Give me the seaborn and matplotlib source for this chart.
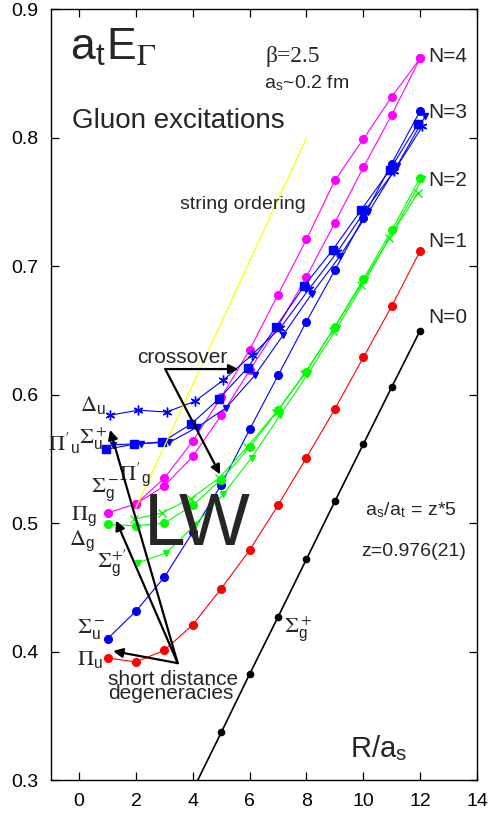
import matplotlib
matplotlib.use("Agg")
import matplotlib.pyplot as plt
import seaborn as sns
import numpy as np
import pandas as pd

# ---------------- data ----------------
R = [1, 2, 3, 4, 5, 6, 7, 8, 9, 10, 11, 12]
R_from2 = [2, 3, 4, 5, 6, 7, 8, 9, 10, 11, 12]
R_from4 = [4, 5, 6, 7, 8, 9, 10, 11, 12]

sigma_g_plus = [0.292, 0.337, 0.3825, 0.427, 0.472, 0.517, 0.5615, 0.606, 0.650]          # N=0, black
pi_u = [0.395, 0.392, 0.401, 0.421, 0.449, 0.479, 0.514, 0.551, 0.589, 0.629, 0.669, 0.712]  # red
sigma_u_minus = [0.410, 0.4315, 0.458, 0.493, 0.530, 0.573, 0.615, 0.657, 0.697, 0.738, 0.780, 0.821]
delta_g = [0.499, 0.498, 0.500, 0.514, 0.534, 0.559, 0.588, 0.618, 0.653, 0.690, 0.728, 0.769]
green_cross = [0.503, 0.508, 0.519, 0.535, 0.5595, 0.586, 0.616, 0.650, 0.6855, 0.722, 0.757]
sigma_g_plus_p = [0.469, 0.477, 0.4985, 0.5224, 0.551, 0.584, 0.617, 0.652, 0.689, 0.728, 0.768]
pi_g = [0.508, 0.515, 0.529, 0.552, 0.584, 0.619, 0.653, 0.692, 0.734, 0.777, 0.818, 0.862]
pi_g_p = [0.515, 0.535, 0.564, 0.598, 0.635, 0.678, 0.721, 0.767, 0.799, 0.832, 0.862]
pi_u_p = [0.5575, 0.5614, 0.5634, 0.577, 0.597, 0.621, 0.653, 0.685, 0.713, 0.744, 0.775, 0.811]
sigma_u_plus = [0.561, 0.562, 0.563, 0.575, 0.590, 0.615, 0.6465, 0.6785, 0.708, 0.742, 0.778, 0.817]
delta_u = [0.584, 0.588, 0.5865, 0.595, 0.6115, 0.631, 0.652, 0.682, 0.711, 0.744, 0.774, 0.809]

string_R = [2, 8]
string_E = [0.512, 0.800]

level_labels = ["N=0", "N=1", "N=2", "N=3", "N=4"]
level_E = [0.660, 0.719, 0.767, 0.820, 0.863]

xticks = [0, 2, 4, 6, 8, 10, 12, 14]
yticks = [0.3, 0.4, 0.5, 0.6, 0.7, 0.8, 0.9]

# ---------------- style ----------------
sns.set_style("ticks")
plt.rcParams['font.family'] = ['Liberation Sans', 'DejaVu Sans']
plt.rcParams['mathtext.fontset'] = 'stix'

fig = plt.figure(figsize=(4.92, 8.16), dpi=100)
ax = fig.add_axes([0.103, 0.0441, 0.8665, 0.9443])

BLUE, MAG, GRN, RED = '#0000ff', '#ff00ff', '#00ff00', '#ff0000'

series = [
    (R_from4, sigma_g_plus, 'black', 'o', 4.5, 1.2, 0.0),
    (R, pi_u, RED, 'o', 5.5, 0.8, 0.0),
    (R, sigma_u_minus, BLUE, 'o', 5.5, 0.8, 0.0),
    (R, delta_g, GRN, 'o', 5.5, 0.8, 0.0),
    (R_from2, green_cross, GRN, 'x', 5.5, 0.8, -0.08),
    (R_from2, sigma_g_plus_p, GRN, 'v', 5.0, 0.8, 0.07),
    (R, pi_g, MAG, 'o', 5.5, 0.8, 0.0),
    (R_from2, pi_g_p, MAG, 'o', 5.5, 0.8, 0.0),
    (R, pi_u_p, BLUE, 's', 5.5, 0.8, -0.07),
    (R, sigma_u_plus, BLUE, 'v', 4.5, 0.8, 0.18),
    (R, delta_u, BLUE, (6, 2, 0), 7.0, 0.8, 0.08),
]

for xs, ys, col, mk, ms, lw, dx in series:
    df = pd.DataFrame({'R': np.asarray(xs, float) + dx, 'E': ys})
    sns.lineplot(data=df, x='R', y='E', ax=ax, color=col, marker=mk, markersize=ms,
                 markeredgecolor=col, markerfacecolor=col, markeredgewidth=1.0,
                 linewidth=lw, estimator=None, sort=False, legend=False, clip_on=True)

sns.lineplot(x=string_R, y=string_E, ax=ax, color='#ffff00', linewidth=0.9,
             estimator=None, legend=False)

ax.set_xlim(-1, 14)
ax.set_ylim(0.3, 0.9)
ax.set_xticks(xticks)
ax.set_yticks(yticks)
ax.set_xticklabels([str(t) for t in xticks])
ax.set_yticklabels([f"{t:.1f}" for t in yticks])
ax.tick_params(direction='in', length=6, width=0.9, top=True, right=True,
               labelsize=14, pad=9, colors='black')
for s in ax.spines.values():
    s.set_linewidth(1.0)
    s.set_color('black')
ax.set_xlabel('')
ax.set_ylabel('')

# ---------------- texts ----------------
ax.text(-0.32, 0.8615, r'$\mathregular{a}_\mathregular{t}\mathregular{E}_\Gamma$', fontsize=32,
        va='baseline', ha='left')
ax.text(6.55, 0.859, 'β=2.5', fontsize=17, family='Liberation Serif', va='baseline')
ax.text(6.5, 0.839, r'a$_\mathregular{s}$~0.2 fm', fontsize=14, va='baseline')
ax.text(-0.25, 0.8077, 'Gluon excitations', fontsize=20, va='baseline')
ax.text(3.56, 0.7485, 'string ordering', fontsize=14, va='center')

for lab, e in zip(level_labels, level_E):
    ax.text(12.3, e, lab, fontsize=15, va='center', ha='left')

ax.text(3.63, 0.6247, 'crossover', fontsize=15, va='baseline', ha='center')
ax.text(1.02, 0.363, 'short distance\ndegeneracies', fontsize=15, va='baseline', ha='left',
        linespacing=0.7)
ax.text(4.15, 0.4985, 'LW', fontsize=54, va='center', ha='center')
ax.text(11.69, 0.5102, r'a$_\mathregular{s}$/a$_\mathregular{t}$ = z*5', fontsize=14,
        va='center', ha='center')
ax.text(11.77, 0.478, 'z=0.976(21)', fontsize=14, va='center', ha='center')
ax.text(9.54, 0.3178, r'R/a$_\mathregular{s}$', fontsize=21, va='baseline', ha='left')

glabels = [
    (0.49, 0.592, r'$\Delta_\mathregular{u}$'),
    (0.50, 0.566, r'$\Sigma_\mathregular{u}^+$'),
    (-0.55, 0.562, r"$\Pi'_\mathregular{u}$"),
    (1.97, 0.5385, r"$\Pi'_\mathregular{g}$"),
    (0.92, 0.526, r'$\Sigma_\mathregular{g}^-$'),
    (0.18, 0.5055, r'$\Pi_\mathregular{g}$'),
    (0.10, 0.4865, r'$\Delta_\mathregular{g}$'),
    (1.16, 0.469, r"$\Sigma_\mathregular{g}^{+\prime}$"),
    (0.42, 0.4175, r'$\Sigma_\mathregular{u}^-$'),
    (0.39, 0.394, r'$\Pi_\mathregular{u}$'),
    (7.72, 0.418, r'$\Sigma_\mathregular{g}^+$'),
]
for x, y, t in glabels:
    ax.text(x, y, t, fontsize=16, va='center', ha='center')

# ---------------- arrows ----------------
aprops = dict(arrowstyle='-|>', color='black', lw=1.6, mutation_scale=14, shrinkA=0, shrinkB=0)
ax.annotate('', xy=(5.6, 0.620), xytext=(3.03, 0.620), arrowprops=aprops)
ax.annotate('', xy=(4.96, 0.538), xytext=(3.03, 0.620), arrowprops=aprops)

apex = (3.47, 0.391)
ax.annotate('', xy=(1.2, 0.4004), xytext=apex, arrowprops=aprops)
ax.annotate('', xy=(1.3, 0.502), xytext=apex, arrowprops=aprops)
ax.annotate('', xy=(1.09, 0.5726), xytext=apex, arrowprops=aprops)

fig.savefig('out.png', dpi=100)
